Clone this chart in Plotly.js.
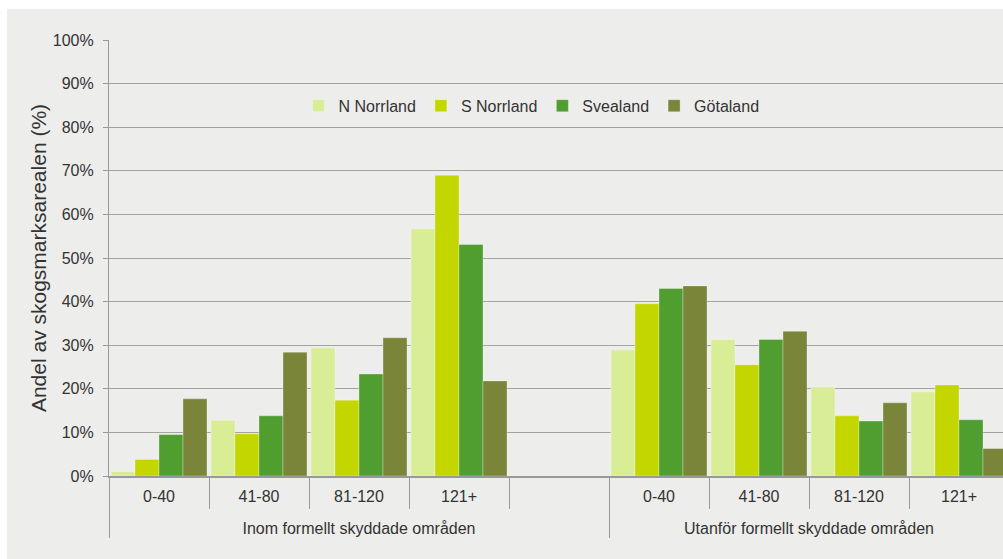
<!DOCTYPE html>
<html>
<head>
<meta charset="utf-8">
<script src="https://cdn.plot.ly/plotly-3.0.1.min.js"></script>
<style>
  html, body { margin: 0; padding: 0; background: #ffffff; }
  #chart { position: absolute; left: 7px; top: 9px; width: 996px; height: 550px; }
</style>
</head>
<body>
<div id="chart"></div>
<script>
// Data
const groupInom = 'Inom formellt skyddade områden';
const groupUtanfor = 'Utanför formellt skyddade områden';
const groups = [groupInom, groupInom, groupInom, groupInom, groupInom,
                groupUtanfor, groupUtanfor, groupUtanfor, groupUtanfor];
const ageClasses = ['0-40', '41-80', '81-120', '121+', ' ', '0-40', '41-80', '81-120', '121+'];

const seriesNames = ['N Norrland', 'S Norrland', 'Svealand', 'Götaland'];
const nNorrland = [1.0, 12.8, 29.4, 56.7, null, 28.9, 31.3, 20.4, 19.3];
const sNorrland = [3.8, 9.7, 17.4, 69.0, null, 39.5, 25.5, 13.8, 20.9];
const svealand  = [9.5, 13.8, 23.4, 53.1, null, 43.0, 31.3, 12.6, 12.9];
const gotaland  = [17.7, 28.4, 31.7, 21.8, null, 43.6, 33.2, 16.8, 6.3];

const seriesValues = [nNorrland, sNorrland, svealand, gotaland];
const colors = ['#d9ec96', '#c4d600', '#4f9e2f', '#7a853a'];

// age-class labels get an empty second line so the group labels sit lower, as in the reference
const ageLabels = ageClasses.map(a => a + '<br><span style="font-size:2px"> </span>');

const traces = seriesNames.map((name, i) => ({
  type: 'bar',
  name: name,
  x: [groups, ageLabels],
  y: seriesValues[i],
  marker: { color: colors[i], line: { color: 'rgba(255,255,255,0.3)', width: 1 } },
  hoverinfo: 'y+name'
}));

const fontFamily = '"Liberation Sans", Arial, Helvetica, sans-serif';

const layout = {
  width: 996,
  height: 550,
  paper_bgcolor: '#edeeeb',
  plot_bgcolor: 'rgba(0,0,0,0)',
  margin: { l: 102, r: 0, t: 31, b: 83 },
  font: { family: fontFamily, size: 16, color: '#333333' },
  barmode: 'group',
  bargap: 0.04,
  bargroupgap: 0,
  showlegend: true,
  legend: {
    orientation: 'h',
    x: 0.212, xanchor: 'left',
    y: 0.849, yanchor: 'middle',
    bgcolor: 'rgba(0,0,0,0)',
    font: { family: fontFamily, size: 16, color: '#333333' },
    traceorder: 'normal'
  },
  xaxis: {
    type: 'multicategory',
    range: [-0.5, 8.44],
    tickson: 'boundaries',
    ticks: 'outside',
    ticklen: 31,
    tickwidth: 1.2,
    tickcolor: '#999999',
    ticklabelstandoff: 5,
    showdividers: true,
    dividercolor: '#999999',
    dividerwidth: 1.2,
    showgrid: false,
    showline: true,
    linecolor: '#999999',
    linewidth: 1.5,
    tickfont: { family: fontFamily, size: 16, color: '#333333' },
    automargin: false
  },
  yaxis: {
    range: [0, 100],
    dtick: 10,
    ticksuffix: '%',
    showline: true,
    linecolor: '#999999',
    linewidth: 1.2,
    ticks: 'outside',
    ticklen: 5,
    tickwidth: 1.2,
    tickcolor: '#999999',
    ticklabelstandoff: 6,
    showgrid: true,
    gridcolor: '#a3a3a3',
    gridwidth: 1.2,
    zeroline: false,
    tickfont: { family: fontFamily, size: 16, color: '#333333' },
    title: { text: 'Andel av skogsmarksarealen (%)', font: { family: fontFamily, size: 21, color: '#333333' }, standoff: 0 },
    automargin: false
  }
};

Plotly.newPlot('chart', traces, layout, { displayModeBar: false });
</script>
</body>
</html>
